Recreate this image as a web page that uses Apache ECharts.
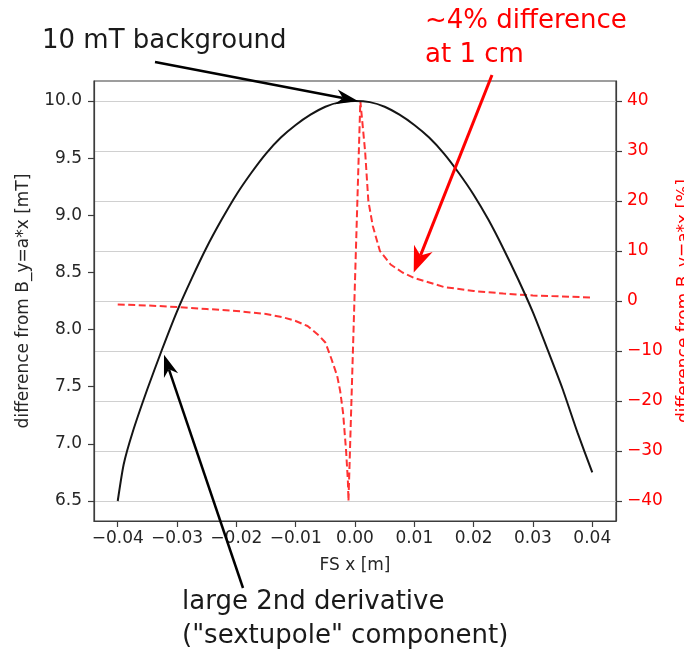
<!DOCTYPE html>
<html>
<head>
<meta charset="utf-8">
<script src="https://cdn.jsdelivr.net/npm/echarts@6/dist/echarts.min.js"></script>
<style>
  html, body { margin: 0; padding: 0; background: #fff; }
  #chart { width: 684px; height: 653px; }
</style>
</head>
<body>
<div id="chart"></div>
<script>
// field along x (black, left axis, mT)
const fieldX = [-0.04, -0.039, -0.0375, -0.035, -0.0325, -0.03, -0.0275, -0.025, -0.0225, -0.02,
  -0.0175, -0.015, -0.0125, -0.01, -0.0075, -0.005, -0.0025, 0,
  0.0025, 0.005, 0.0075, 0.01, 0.0125, 0.015, 0.0175, 0.02, 0.0225, 0.025, 0.0275, 0.03,
  0.0325, 0.035, 0.0375, 0.04]
const fieldMT = [6.50, 6.82, 7.10, 7.48, 7.83, 8.16, 8.45, 8.72, 8.96, 9.18,
  9.37, 9.54, 9.68, 9.79, 9.88, 9.95, 9.99, 10.00,
  9.99, 9.95, 9.88, 9.79, 9.68, 9.54, 9.37, 9.18, 8.96, 8.71, 8.44, 8.15,
  7.82, 7.48, 7.10, 6.75]

// relative difference (red dashed, right axis, %)
const diffX = [-0.04, -0.035, -0.03, -0.025, -0.02, -0.015, -0.012, -0.01, -0.008, -0.006, -0.005,
  -0.004, -0.003, -0.0025, -0.002, -0.0015, -0.0012, -0.0011,
  0.0009, 0.0013, 0.0017, 0.00225, 0.003, 0.0042, 0.006, 0.008, 0.01, 0.015, 0.02, 0.025,
  0.03, 0.035, 0.04]
const diffPct = [-0.7, -0.9, -1.2, -1.6, -2.0, -2.6, -3.3, -4.0, -5.0, -7.0, -8.3,
  -11.5, -15, -18, -22.5, -30, -36, -40,
  40, 35, 30, 20, 15, 10, 7.3, 5.7, 4.6, 2.8, 2.0, 1.5,
  1.1, 0.9, 0.7]

const xTicks = [-0.04, -0.03, -0.02, -0.01, 0, 0.01, 0.02, 0.03, 0.04]
const leftTicks = [6.5, 7.0, 7.5, 8.0, 8.5, 9.0, 9.5, 10.0]
const rightTicks = [-40, -30, -20, -10, 0, 10, 20, 30, 40]

const FONT = 'DejaVu Sans'
const RED = '#ff0000'
const DARK = '#262626'
const SPINE = '#3c3c3c'

const chart = echarts.init(document.getElementById('chart'), null, { renderer: 'canvas' })

const fmtMinus = (s) => s.replace('-', '\u2212')

const option = {
  animation: false,
  backgroundColor: '#fff',
  textStyle: { fontFamily: FONT },
  grid: {
    left: 94, right: 68, top: 81, bottom: 132,
    outerBoundsMode: 'none',
    containLabel: false,
    show: true, borderColor: SPINE, borderWidth: 1.2, backgroundColor: 'transparent'
  },
  xAxis: {
    type: 'value',
    min: -0.044, max: 0.044,
    name: 'FS x [m]',
    nameLocation: 'middle',
    nameGap: 36,
    nameTextStyle: { fontSize: 17, color: DARK, fontFamily: FONT },
    axisLine: { onZero: false, lineStyle: { color: SPINE, width: 1.2 } },
    axisTick: { show: true, length: 6, customValues: xTicks, lineStyle: { color: SPINE, width: 1.2 } },
    axisLabel: {
      customValues: xTicks, margin: 9, fontSize: 17, color: DARK, fontFamily: FONT,
      formatter: (v) => fmtMinus(v.toFixed(2))
    },
    splitLine: { show: false }
  },
  yAxis: [{
    type: 'value',
    position: 'left',
    min: 6.325, max: 10.175,
    name: 'difference from B_y=a*x [mT]',
    nameLocation: 'middle',
    nameRotate: 90,
    nameGap: 62,
    nameTextStyle: { fontSize: 17, color: DARK, fontFamily: FONT },
    axisLine: { show: true, onZero: false, lineStyle: { color: SPINE, width: 1.2 } },
    axisTick: { show: true, length: 6, customValues: leftTicks, lineStyle: { color: SPINE, width: 1.2 } },
    axisLabel: {
      customValues: leftTicks, margin: 12, fontSize: 17, color: DARK, fontFamily: FONT,
      formatter: (v) => v.toFixed(1)
    },
    splitLine: { show: false }
  }, {
    type: 'value',
    position: 'right',
    min: -44, max: 44,
    name: 'difference from B_y=a*x [%]',
    nameLocation: 'middle',
    nameRotate: 90,
    nameGap: 60,
    nameTextStyle: { fontSize: 17, color: RED, fontFamily: FONT },
    axisLine: { show: true, onZero: false, lineStyle: { color: SPINE, width: 1.2 } },
    axisTick: { show: true, length: 6, customValues: rightTicks, lineStyle: { color: SPINE, width: 1.2 } },
    axisLabel: {
      customValues: rightTicks, margin: 11, fontSize: 17, color: RED, fontFamily: FONT,
      formatter: (v) => fmtMinus(String(v))
    },
    splitLine: { show: true, lineStyle: { color: '#d0d0d0', width: 1 } }
  }],
  series: [{
    name: 'field',
    type: 'line',
    yAxisIndex: 0,
    data: fieldX.map((x, i) => [x, fieldMT[i]]),
    showSymbol: false,
    smooth: 0.2,
    lineStyle: { color: '#151515', width: 2 },
    z: 3
  }, {
    name: 'difference',
    type: 'line',
    yAxisIndex: 1,
    data: diffX.map((x, i) => [x, diffPct[i]]),
    showSymbol: false,
    lineStyle: { color: 'rgba(255,0,0,0.8)', width: 2, type: [7, 3.5] },
    z: 2
  }]
}

chart.setOption(option)

// annotations, matplotlib-style arrows
function arrow(from, to, color, width, headLen, headHalf) {
  const dx = to[0] - from[0], dy = to[1] - from[1]
  const len = Math.hypot(dx, dy)
  const ux = dx / len, uy = dy / len, px = -uy, py = ux
  const bx = to[0] - ux * headLen, by = to[1] - uy * headLen
  const nx = to[0] - ux * headLen * 0.7, ny = to[1] - uy * headLen * 0.7
  return [{
    type: 'line', z: 100,
    shape: { x1: from[0], y1: from[1], x2: nx, y2: ny },
    style: { stroke: color, lineWidth: width }
  }, {
    type: 'polygon', z: 100,
    shape: { points: [to, [bx + px * headHalf, by + py * headHalf], [nx, ny], [bx - px * headHalf, by - py * headHalf]] },
    style: { fill: color }
  }]
}

function label(text, x, y, color) {
  return {
    type: 'text', z: 100, x: x, y: y,
    style: { text: text, font: '26px "DejaVu Sans"', fill: color, align: 'left', verticalAlign: 'middle' }
  }
}

const peakTip = chart.convertToPixel({ seriesIndex: 0 }, [0.0005, 10.0])
const diffTip = chart.convertToPixel({ seriesIndex: 1 }, [0.0099, 5.7])
const sideTip = chart.convertToPixel({ seriesIndex: 0 }, [-0.0322, 7.78])

chart.setOption({
  graphic: [
    label('10 mT background', 42, 41, '#1a1a1a'),
    label('~4% difference', 425, 21, RED),
    label('at 1 cm', 425, 55, RED),
    label('large 2nd derivative', 182, 602, '#1a1a1a'),
    label('("sextupole" component)', 182, 636, '#1a1a1a'),
    ...arrow([155, 62], peakTip, '#000', 2.5, 22, 7.5),
    ...arrow([492, 75], diffTip, RED, 3, 26, 10),
    ...arrow([243, 588], sideTip, '#000', 2.5, 22, 7.5)
  ]
})
</script>
</body>
</html>
